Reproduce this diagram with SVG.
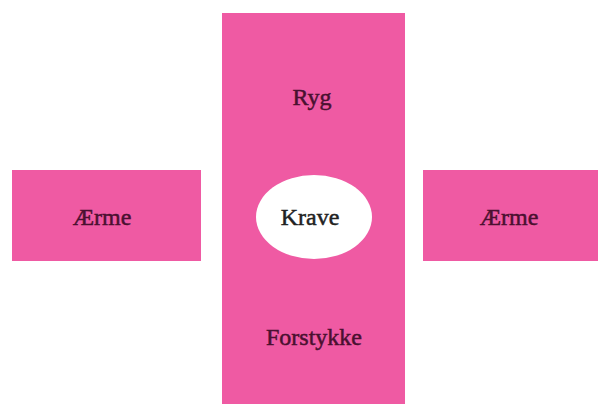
<svg xmlns="http://www.w3.org/2000/svg" width="598" height="404" viewBox="0 0 598 404">
<style>
.p{fill:#ef5aa3}
.t{font-family:"Liberation Serif","Times New Roman",serif;font-size:24px;fill:#4a1030;stroke:#4a1030;stroke-width:0.5;text-anchor:middle}
.k{fill:#222;stroke:#222}
</style>
<rect width="598" height="404" fill="#fff"/>
<g id="ryg-forstykke"><rect class="p" x="222" y="13" width="183" height="391"/></g>
<g id="aerme-left"><rect class="p" x="12" y="170" width="189" height="91"/><text class="t" x="102" y="225">Ærme</text></g>
<g id="aerme-right"><rect class="p" x="423" y="170" width="175" height="91"/><text class="t" x="509" y="225">Ærme</text></g>
<g id="ryg"><text class="t" x="312" y="105">Ryg</text></g>
<g id="krave"><ellipse cx="314" cy="217" rx="58" ry="42" fill="#fff"/><text class="t k" x="310" y="225">Krave</text></g>
<g id="forstykke"><text class="t" x="314" y="345">Forstykke</text></g>
<g id="connectors"></g>
</svg>
